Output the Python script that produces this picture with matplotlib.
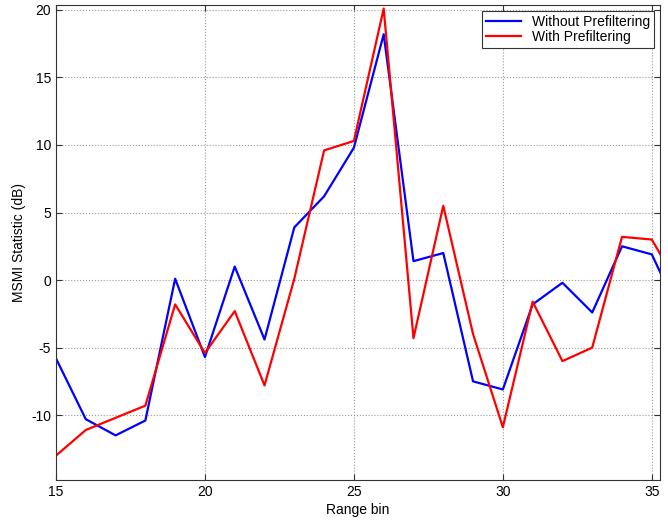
import matplotlib
matplotlib.use("Agg")
import matplotlib.pyplot as plt

plt.rcParams['font.family'] = ['Liberation Sans', 'DejaVu Sans']
plt.rcParams['axes.unicode_minus'] = False

range_bins = [15, 16, 17, 18, 19, 20, 21, 22, 23, 24, 25, 26, 27, 28, 29, 30, 31, 32, 33, 34, 35, 36]
without_prefilter = [-5.8, -10.3, -11.5, -10.4, 0.1, -5.7, 1.0, -4.4, 3.9, 6.2, 9.8, 18.2,
                     1.4, 2.0, -7.5, -8.1, -1.8, -0.2, -2.4, 2.5, 1.9, -2.8]
with_prefilter = [-13.0, -11.1, -10.2, -9.3, -1.8, -5.4, -2.3, -7.8, 0.1, 9.6, 10.3, 20.1,
                  -4.3, 5.5, -4.0, -10.9, -1.6, -6.0, -5.0, 3.2, 3.0, -0.8]

fig = plt.figure(figsize=(6.68, 5.2), dpi=100)
ax = fig.add_axes([0.0838, 0.077, 0.904, 0.913])

ax.plot(range_bins, without_prefilter, color='#0000ff', lw=1.6, label='Without Prefiltering')
ax.plot(range_bins, with_prefilter, color='#ff0000', lw=1.6, label='With Prefiltering')

ax.set_xlim(15, 35.27)
ax.set_ylim(-14.8, 20.35)
ax.set_xticks([15, 20, 25, 30, 35])
ax.set_yticks([-10, -5, 0, 5, 10, 15, 20])
ax.grid(True, linestyle=':', color='#999999', linewidth=0.8)
ax.tick_params(direction='in', top=True, right=True, labelsize=10, length=4, color='#333333')
for s in ax.spines.values():
    s.set_color('#333333')
    s.set_linewidth(0.8)

ax.set_xlabel('Range bin', fontsize=10, labelpad=3)
ax.set_ylabel('MSMI Statistic (dB)', fontsize=10, labelpad=4)

leg = ax.legend(loc='upper right', fontsize=10, fancybox=False, framealpha=1,
                edgecolor='#333333', borderaxespad=0.4, handlelength=2.5,
                borderpad=0.3, labelspacing=0.1)
leg.get_frame().set_linewidth(0.8)

fig.savefig('out.png', dpi=100)
